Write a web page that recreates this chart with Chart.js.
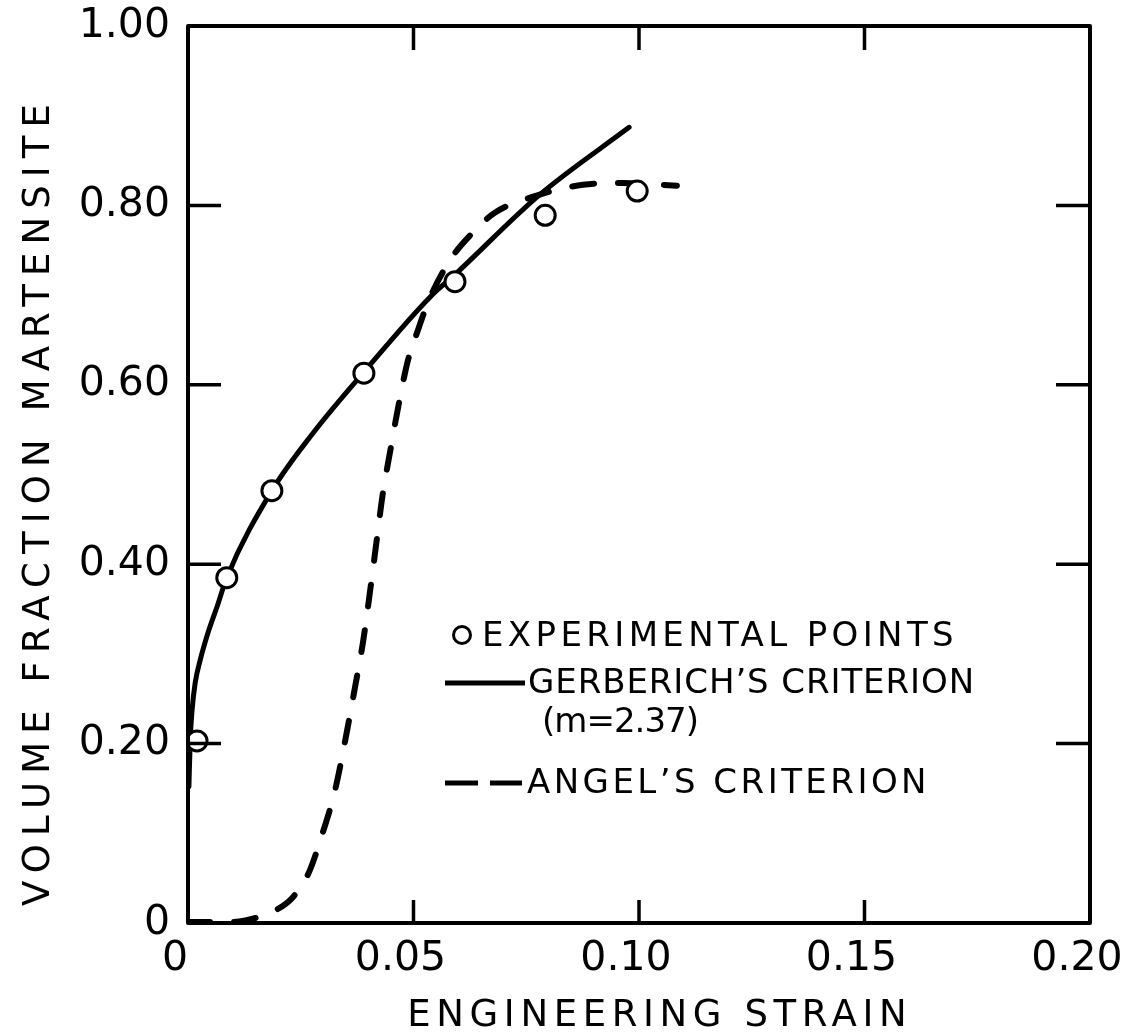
<!DOCTYPE html>
<html>
<head>
<meta charset="utf-8">
<title>Volume Fraction Martensite vs Engineering Strain</title>
<script src="https://cdn.jsdelivr.net/npm/chart.js@4.4.1/dist/chart.umd.min.js"></script>
<style>
    html, body { margin: 0; padding: 0; background: #fff; }
    #wrap { position: relative; width: 1132px; height: 1036px; }
</style>
</head>
<body>
<div id="wrap"><canvas id="martensitePlot"></canvas></div>
<script>
const INK = "#000";
const FONT_FAMILY = "DejaVu Sans";

// axis ticks and the labels printed under them
const xTickValues = [0, 0.05, 0.10, 0.15, 0.20];
const xTickLabels = ["0", "0.05", "0.10", "0.15", "0.20"];
const yTickValues = [0, 0.2, 0.4, 0.6, 0.8, 1.0];
const yTickLabels = ["0", "0.20", "0.40", "0.60", "0.80", "1.00"];

// experimental points
const expStrain = [0.0020, 0.0086, 0.0186, 0.0390, 0.0592, 0.0792, 0.0996];
const expFraction = [0.203, 0.385, 0.482, 0.613, 0.715, 0.789, 0.816];

// Gerberich's criterion (m = 2.37)
const gerberichStrain = [0.0002, 0.0005, 0.0009, 0.0016, 0.0027, 0.0044, 0.0064, 0.0086, 0.0186, 0.0277, 0.0388, 0.0537, 0.0590, 0.0780, 0.0978];
const gerberichFraction = [0.152, 0.205, 0.237, 0.268, 0.293, 0.323, 0.352, 0.385, 0.482, 0.546, 0.613, 0.698, 0.722, 0.812, 0.887];

// Angel's criterion
const angelStrain = [0, 0.0093, 0.0153, 0.0197, 0.0231, 0.0266, 0.0297, 0.0326, 0.0348, 0.0370, 0.0388, 0.0404, 0.0419, 0.0432, 0.0448, 0.0466, 0.0488, 0.0510, 0.0532, 0.0581, 0.0632, 0.0681, 0.0780, 0.0876, 0.0965, 0.1084];
const angelFraction = [0.001, 0.001, 0.006, 0.015, 0.028, 0.054, 0.098, 0.148, 0.202, 0.262, 0.313, 0.371, 0.429, 0.479, 0.525, 0.575, 0.628, 0.661, 0.692, 0.739, 0.770, 0.792, 0.812, 0.823, 0.825, 0.822];

function toPoints(xs, ys) {
    return xs.map((x, i) => ({ x: x, y: ys[i] }));
}

function labelFor(values, labels, value) {
    let i = values.findIndex((v) => Math.abs(v - value) < 1e-9);
    return i >= 0 ? labels[i] : "";
}

// draws text stretched out to a given width, like stencil lettering
function letterText(ctx, text, x, y, width, align) {
    ctx.letterSpacing = "0px";
    let natural = ctx.measureText(text).width;
    let spacing = (width - natural) / text.length;
    ctx.letterSpacing = spacing + "px";
    ctx.textAlign = align;
    ctx.fillText(text, align === "center" ? x + spacing / 2 : x, y);
    ctx.letterSpacing = "0px";
}

// frame box, inward tick marks, axis titles and key
const paperFrame = {
    id: "paperFrame",
    afterDraw(chart) {
        const ctx = chart.ctx;
        const area = chart.chartArea;
        const xs = chart.scales.x;
        const ys = chart.scales.y;

        ctx.save();
        ctx.strokeStyle = INK;
        ctx.fillStyle = INK;
        ctx.lineWidth = 4;
        ctx.lineJoin = "round";
        ctx.strokeRect(area.left, area.top, area.right - area.left, area.bottom - area.top);

        ctx.lineWidth = 3.5;
        ctx.beginPath();
        xTickValues.filter((v) => v > xs.min && v < xs.max).forEach((v) => {
            let px = xs.getPixelForValue(v);
            ctx.moveTo(px, area.bottom);
            ctx.lineTo(px, area.bottom - 23);
            ctx.moveTo(px, area.top);
            ctx.lineTo(px, area.top + 24);
        });
        yTickValues.filter((v) => v > ys.min && v < ys.max).forEach((v) => {
            let py = ys.getPixelForValue(v);
            ctx.moveTo(area.left, py);
            ctx.lineTo(area.left + 33, py);
            ctx.moveTo(area.right, py);
            ctx.lineTo(area.right - 34, py);
        });
        ctx.stroke();

        // axis titles
        ctx.font = "37px '" + FONT_FAMILY + "'";
        ctx.textBaseline = "middle";
        letterText(ctx, "ENGINEERING STRAIN", 657, 1016, 505, "center");

        ctx.save();
        ctx.translate(39, 505);
        ctx.rotate(-Math.PI / 2);
        letterText(ctx, "VOLUME FRACTION MARTENSITE", 0, 0, 810, "center");
        ctx.restore();

        // key
        ctx.font = "34px '" + FONT_FAMILY + "'";
        ctx.fillStyle = "#fff";
        ctx.lineWidth = 3;
        ctx.beginPath();
        ctx.arc(462, 635, 8.5, 0, Math.PI * 2);
        ctx.fill();
        ctx.stroke();
        ctx.fillStyle = INK;
        letterText(ctx, "EXPERIMENTAL POINTS", 482, 637, 476, "left");

        ctx.lineWidth = 5;
        ctx.lineCap = "butt";
        ctx.beginPath();
        ctx.moveTo(445, 683);
        ctx.lineTo(525, 683);
        ctx.stroke();
        letterText(ctx, "GERBERICH\u2019S CRITERION", 528, 684, 447, "left");
        letterText(ctx, "(m=2.37)", 542, 723, 156, "left");

        ctx.setLineDash([33, 12]);
        ctx.beginPath();
        ctx.moveTo(445, 783);
        ctx.lineTo(522, 783);
        ctx.stroke();
        ctx.setLineDash([]);
        letterText(ctx, "ANGEL\u2019S CRITERION", 527, 784, 403, "left");

        ctx.restore();
    },
};

const tickFont = { family: FONT_FAMILY, size: 41 };

const config = {
    type: "line",
    data: {
        datasets: [
            {
                label: "Experimental points",
                data: toPoints(expStrain, expFraction),
                showLine: false,
                pointStyle: "circle",
                pointRadius: 10,
                pointBorderWidth: 3,
                pointBorderColor: INK,
                pointBackgroundColor: "#fff",
            },
            {
                label: "Gerberich's criterion (m = 2.37)",
                data: toPoints(gerberichStrain, gerberichFraction),
                borderColor: INK,
                borderWidth: 5,
                cubicInterpolationMode: "monotone",
                pointRadius: 0,
                borderCapStyle: "round",
            },
            {
                label: "Angel's criterion",
                data: toPoints(angelStrain, angelFraction),
                borderColor: INK,
                borderWidth: 6,
                borderDash: [22, 24],
                borderCapStyle: "round",
                cubicInterpolationMode: "monotone",
                pointRadius: 0,
            },
        ],
    },
    options: {
        responsive: true,
        maintainAspectRatio: false,
        animation: false,
        layout: {
            padding: { top: 26, right: 42, left: 0, bottom: 0 },
        },
        plugins: {
            legend: { display: false },
            tooltip: { enabled: false },
        },
        scales: {
            x: {
                type: "linear",
                min: 0,
                max: 0.2,
                grid: { display: false },
                border: { display: false },
                afterBuildTicks: function (scale) {
                    scale.ticks = xTickValues.map((v) => ({ value: v }));
                },
                afterFit: function (scale) {
                    scale.height = 113;
                    scale.paddingLeft = 0;
                    scale.paddingRight = 0;
                },
                ticks: {
                    color: INK,
                    font: tickFont,
                    padding: 4,
                    labelOffset: -13,
                    maxRotation: 0,
                    autoSkip: false,
                    callback: function (value) {
                        return labelFor(xTickValues, xTickLabels, value);
                    },
                },
            },
            y: {
                type: "linear",
                min: 0,
                max: 1,
                grid: { display: false },
                border: { display: false },
                afterBuildTicks: function (scale) {
                    scale.ticks = yTickValues.map((v) => ({ value: v }));
                },
                afterFit: function (scale) {
                    scale.width = 188;
                    scale.paddingTop = 0;
                    scale.paddingBottom = 0;
                },
                ticks: {
                    color: INK,
                    font: tickFont,
                    padding: 10,
                    autoSkip: false,
                    callback: function (value) {
                        return labelFor(yTickValues, yTickLabels, value);
                    },
                },
            },
        },
    },
    plugins: [paperFrame],
};

new Chart(document.getElementById("martensitePlot").getContext("2d"), config);
</script>
</body>
</html>
